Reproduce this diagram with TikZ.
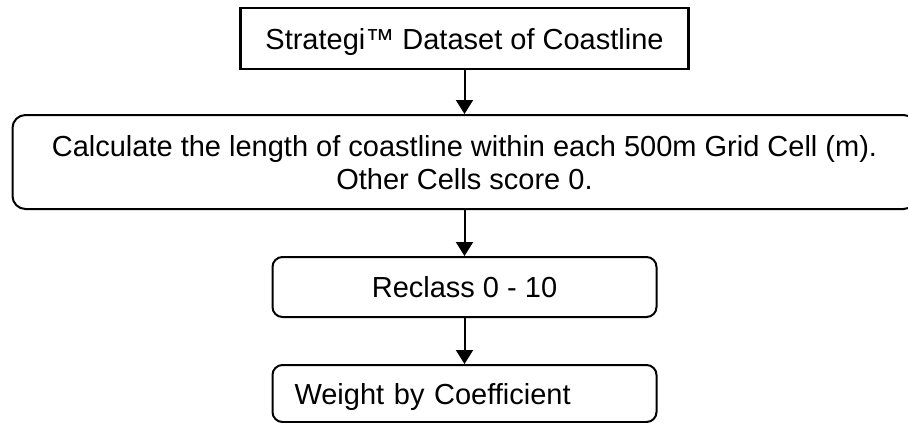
\documentclass[tikz,border=0pt]{standalone}
\usepackage{fontspec}
\setmainfont{Liberation Sans}
\usetikzlibrary{arrows.meta}
\begin{document}
\begin{tikzpicture}[x=1pt,y=-1pt,
  box/.style={draw, line width=2pt, inner sep=0pt, font=\fontsize{29}{33}\selectfont, text height=21pt, text depth=0pt},
  rbox/.style={box, rounded corners=10pt},
  arr/.style={-{Triangle[width=17pt,length=14pt]}, line width=2pt}]
\useasboundingbox (0,0) rectangle (908,423);
\node[box, line width=2.6pt, minimum width=448pt, minimum height=61pt] (n1) at (464.5,38.5) {Strategi™ Dataset of Coastline};
\node[rbox, rounded corners=13pt, minimum width=904pt, minimum height=94pt, align=center, text height=54pt, text depth=0pt] (n2) at (464.5,162) {Calculate the length of coastline within each 500m Grid Cell (m).\\Other Cells score 0.};
\node[rbox, minimum width=384pt, minimum height=60pt] (n3) at (464.5,287) {Reclass 0 - 10};
\node[rbox, minimum width=384pt, minimum height=57pt, text width=340pt, inner xsep=22pt, align=left] (n4) at (464.5,393.5) {Weight by Coefficient};
\draw[arr] (n1) -- (n2);
\draw[arr] (n2) -- (n3);
\draw[arr] (n3) -- (n4);
\end{tikzpicture}
\end{document}
